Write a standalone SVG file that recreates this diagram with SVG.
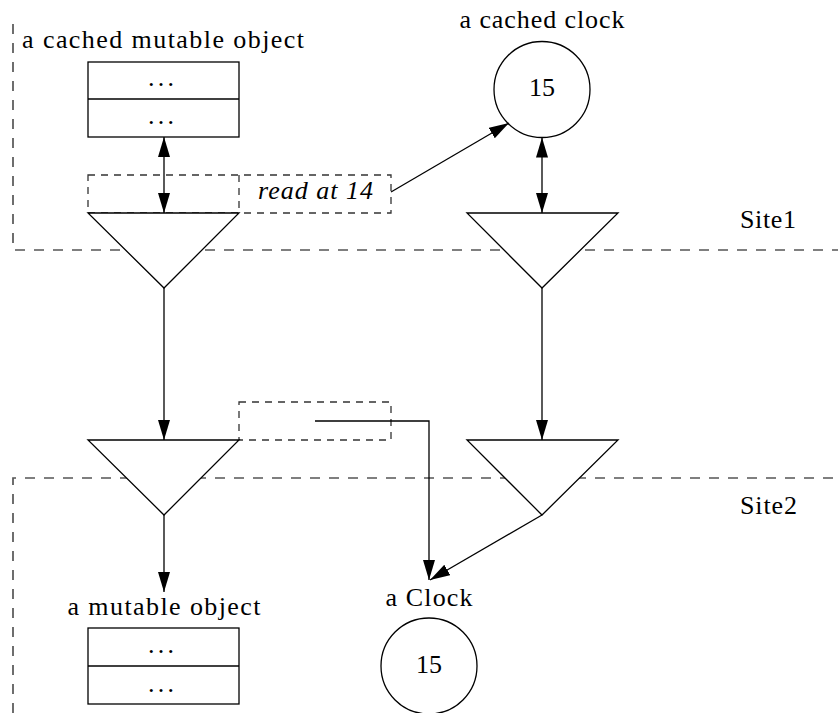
<svg xmlns="http://www.w3.org/2000/svg" width="838" height="713" viewBox="0 0 838 713">
<defs>
<style>
.bg{fill:#fff}
.ln{fill:none;stroke:#000;stroke-width:1.3}
.sh{fill:#fff;stroke:#000;stroke-width:1.3}
.ds{fill:none;stroke:#333;stroke-width:1.3;stroke-dasharray:7,6}
.site{fill:none;stroke:#555;stroke-width:1.7;stroke-dasharray:10,9}
.t{font-family:'Liberation Serif','Times New Roman','DejaVu Serif',Times,serif;font-size:26px;fill:#000}
.c{text-anchor:middle}
.i{font-style:italic}
</style>
<marker id="ah" markerUnits="userSpaceOnUse" markerWidth="22" markerHeight="14" refX="20" refY="6" orient="auto-start-reverse">
<path d="M0,0 L20,6 L0,12 z" fill="#000"/>
</marker>
</defs>
<rect class="bg" x="0" y="0" width="838" height="713"/>

<g id="site1">
<path class="site" d="M13,24 L13,250 L838,250"/>
<text class="t" x="740" y="228" textLength="56" lengthAdjust="spacing">Site1</text>
</g>
<g id="site2">
<path class="site" d="M13,713 L13,478 L838,478"/>
<text class="t" x="740" y="514" textLength="57" lengthAdjust="spacing">Site2</text>
</g>

<g id="cached-object">
<text class="t" x="22" y="48" textLength="282" lengthAdjust="spacing">a cached mutable object</text>
<rect class="sh" x="88" y="62" width="151" height="75"/>
<line class="ln" x1="88" y1="99" x2="239" y2="99"/>
<text class="t c" x="161" y="86" textLength="26" lengthAdjust="spacing">...</text>
<text class="t c" x="161" y="124" textLength="26" lengthAdjust="spacing">...</text>
</g>

<g id="read-box">
<rect class="ds" x="88" y="175" width="303" height="38"/>
<line class="ds" x1="239" y1="175" x2="239" y2="213"/>
<text class="t i" x="258" y="199" textLength="115" lengthAdjust="spacing">read at 14</text>
</g>

<g id="cached-clock">
<text class="t c" x="542" y="28" textLength="165" lengthAdjust="spacing">a cached clock</text>
<circle class="sh" cx="542" cy="89.5" r="48"/>
<text class="t c" x="542" y="96">15</text>
</g>

<g id="tri1"><path class="sh" d="M88,213 L239,213 L164,288 z"/></g>
<g id="tri2"><path class="sh" d="M467,213 L618,213 L542,288 z"/></g>
<g id="write-box">
<rect class="ds" x="239" y="402" width="152" height="38"/>
</g>
<g id="tri3"><path class="sh" d="M88,440 L239,440 L164,515 z"/></g>
<g id="tri4"><path class="sh" d="M467,440 L618,440 L542,515 z"/></g>

<g id="mutable-object">
<text class="t c" x="164" y="615" textLength="193" lengthAdjust="spacing">a mutable object</text>
<rect class="sh" x="88" y="628" width="151" height="76"/>
<line class="ln" x1="88" y1="666" x2="239" y2="666"/>
<text class="t c" x="161" y="653" textLength="26" lengthAdjust="spacing">...</text>
<text class="t c" x="161" y="692" textLength="26" lengthAdjust="spacing">...</text>
</g>

<g id="clock">
<text class="t c" x="429" y="606" textLength="87" lengthAdjust="spacing">a Clock</text>
<circle class="sh" cx="429" cy="666" r="48"/>
<text class="t c" x="429" y="673">15</text>
</g>

<g id="connectors">
<line class="ln" x1="164" y1="137" x2="164" y2="213" marker-start="url(#ah)" marker-end="url(#ah)"/>
<line class="ln" x1="542" y1="137.5" x2="542" y2="213" marker-start="url(#ah)" marker-end="url(#ah)"/>
<line class="ln" x1="391" y1="192" x2="509" y2="123" marker-end="url(#ah)"/>
<line class="ln" x1="164" y1="288" x2="164" y2="440" marker-end="url(#ah)"/>
<line class="ln" x1="542" y1="288" x2="542" y2="440" marker-end="url(#ah)"/>
<line class="ln" x1="164" y1="515" x2="164" y2="592" marker-end="url(#ah)"/>
<path class="ln" d="M315,421 L429,421 L429,580" marker-end="url(#ah)"/>
<line class="ln" x1="542" y1="515" x2="430" y2="580" marker-end="url(#ah)"/>
</g>
</svg>
